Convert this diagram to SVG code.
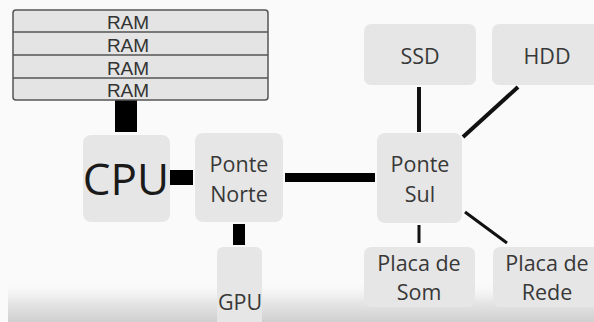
<svg xmlns="http://www.w3.org/2000/svg" width="594" height="322" viewBox="0 0 594 322">
<defs>
<linearGradient id="band" x1="0" y1="0" x2="0" y2="1">
<stop offset="0" stop-color="#f7f7f7" stop-opacity="0"/>
<stop offset="0.5" stop-color="#e6e6e6"/>
<stop offset="1" stop-color="#cfcfcf"/>
</linearGradient>
<style>
.box{fill:#e6e6e6;}
.ram{fill:#e4e4e4;stroke:#555;stroke-width:1.5;}
.t{font-family:"Open Sans","Noto Sans",sans-serif;font-size:21.5px;fill:#383838;text-anchor:middle;}
.big{font-size:44px;fill:#1a1a1a;}
.r{font-family:"Liberation Sans",Arial,sans-serif;font-size:19px;fill:#333;text-anchor:middle;}
.bar{fill:#000;}
.ln{stroke:#111;stroke-width:4;stroke-linecap:butt;}
</style>
</defs>
<rect width="594" height="322" fill="#fafafa"/>
<rect x="8" y="282" width="586" height="40" fill="url(#band)"/>
<g id="connectors">
<rect class="bar" x="115" y="100" width="22" height="32"/>
<rect class="bar" x="170" y="170" width="23" height="15"/>
<rect class="bar" x="233" y="224" width="12" height="21"/>
<rect class="bar" x="285" y="173" width="90" height="9"/>
<line class="ln" x1="419" y1="87" x2="419" y2="132"/>
<line class="ln" x1="518" y1="87" x2="463" y2="137"/>
<line class="ln" x1="419" y1="225" x2="419" y2="243" style="stroke-width:3"/>
<line class="ln" x1="465" y1="212" x2="507" y2="243" style="stroke-width:3"/>
</g>
<g id="ram">
<rect class="ram" x="13" y="10" width="255" height="90" rx="3"/>
<line x1="13" y1="32" x2="268" y2="32" stroke="#555" stroke-width="1.5"/>
<line x1="13" y1="55" x2="268" y2="55" stroke="#555" stroke-width="1.5"/>
<line x1="13" y1="78" x2="268" y2="78" stroke="#555" stroke-width="1.5"/>
<text class="r" x="128" y="29">RAM</text>
<text class="r" x="128" y="52">RAM</text>
<text class="r" x="128" y="75">RAM</text>
<text class="r" x="128" y="97">RAM</text>
</g>
<g id="cpu">
<rect class="box" x="83" y="135" width="87" height="87" rx="8"/>
<text class="t big" x="126" y="195">CPU</text>
</g>
<g id="ponte-norte">
<rect class="box" x="195" y="133" width="88" height="89" rx="8"/>
<text class="t" x="239" y="172">Ponte</text>
<text class="t" x="239" y="202">Norte</text>
</g>
<g id="gpu">
<rect class="box" x="217" y="247" width="45" height="80" rx="6"/>
<text class="t" x="240" y="310">GPU</text>
</g>
<g id="ponte-sul">
<rect class="box" x="377" y="133" width="85" height="90" rx="8"/>
<text class="t" x="420" y="172">Ponte</text>
<text class="t" x="420" y="202">Sul</text>
</g>
<g id="ssd">
<rect class="box" x="364" y="24" width="112" height="61" rx="7"/>
<text class="t" x="420" y="64">SSD</text>
</g>
<g id="hdd">
<rect class="box" x="492" y="24" width="112" height="61" rx="7"/>
<text class="t" x="547" y="64">HDD</text>
</g>
<g id="placa-som">
<rect class="box" x="364" y="247" width="111" height="60" rx="7"/>
<text class="t" x="419" y="271">Placa de</text>
<text class="t" x="419" y="300">Som</text>
</g>
<g id="placa-rede">
<rect class="box" x="493" y="247" width="111" height="60" rx="7"/>
<text class="t" x="547" y="271">Placa de</text>
<text class="t" x="547" y="300">Rede</text>
</g>
</svg>
